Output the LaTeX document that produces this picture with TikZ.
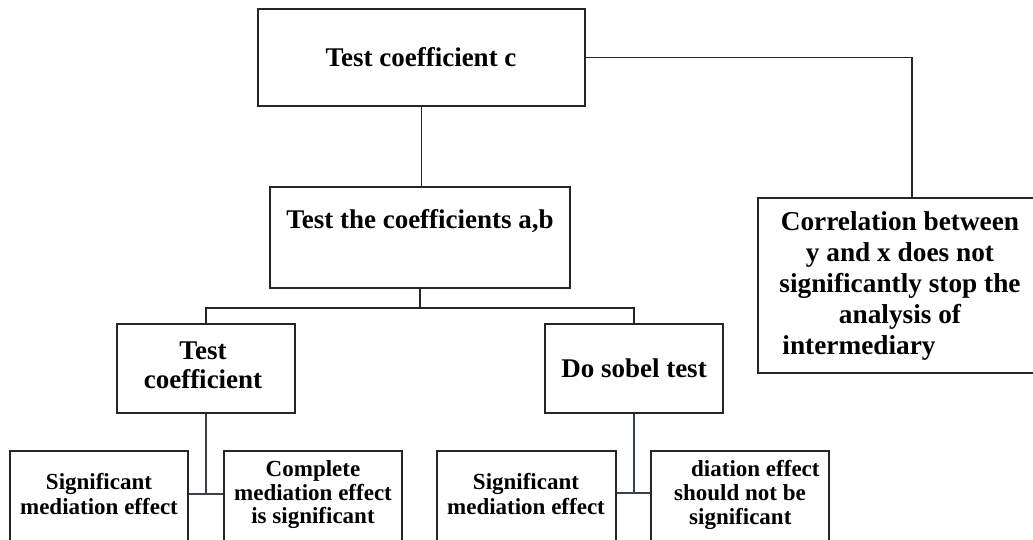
\documentclass[tikz,border=0pt]{standalone}
\usepackage{fontspec}
\setmainfont{Liberation Serif}
\usetikzlibrary{fit}
\begin{document}
\begin{tikzpicture}[x=1pt,y=-1pt,
  box/.style={draw=black!85, line width=1.6pt, inner sep=0pt, fill=white},
  conn/.style={draw=black!85, line width=1.5pt},
  conn2/.style={draw={rgb,255:red,55;green,65;blue,80}, line width=1.6pt},
  bigtxt/.style={font=\fontsize{27}{30}\selectfont\bfseries, align=center, inner sep=0pt},
  smalltxt/.style={font=\fontsize{23}{24.5}\selectfont\bfseries, align=center, inner sep=0pt},
  corrtxt/.style={font=\fontsize{27.3}{31.2}\selectfont\bfseries, align=center, inner sep=0pt}]
\useasboundingbox (0,0) rectangle (1033,539);
\begin{scope}
\clip (0,0) rectangle (1033,539);
\fill[white] (0,0) rectangle (1033,539);
% boxes
\node[box, fit={(258,9) (585,106)}] (top) {};
\node[box, fit={(270,187) (570,288)}] (mid) {};
\node[box, fit={(758,198) (1066,373)}] (corr) {};
\node[box, fit={(117,324) (295,413)}] (tc) {};
\node[box, fit={(545,324) (723,413)}] (sob) {};
\node[box, fit={(10,451) (188,548)}] (b1) {};
\node[box, fit={(224,451) (402,548)}] (b2) {};
\node[box, fit={(437,451) (616,548)}] (b3) {};
\node[box, fit={(651,451) (829,548)}] (b4) {};
% texts
\node[bigtxt] (ttop) at (421,57) {Test coefficient c};
\node[bigtxt] (tmid) at (420,221) {Test the coefficients a,b};
\node[bigtxt, font=\fontsize{27}{29}\selectfont\bfseries] (ttc) at (203,365) {Test\\coefficient};
\node[bigtxt] (tsob) at (634,368) {Do sobel test};
\node[corrtxt] (tcorr) at (900,286) {Correlation between\\y and x does not\\significantly stop the\\analysis of\\intermediary\hspace*{82pt}};
\node[smalltxt] (tb1) at (99,494) {Significant\\mediation effect};
\node[smalltxt, font=\fontsize{23}{23.5}\selectfont\bfseries] (tb2) at (313,495) {Complete\\mediation effect\\is significant};
\node[smalltxt] (tb3) at (526,494) {Significant\\mediation effect};
\node[smalltxt, font=\fontsize{23}{24}\selectfont\bfseries, align=left, anchor=west] (tb4) at (674,495) {\hspace*{17pt}diation effect\\should not be\\\hspace*{15pt}significant};
% connectors
\draw[conn] (top.east) -| (corr.north);
\draw[conn] (top.south) -- (top.south |- mid.north);
\draw[conn] (mid.south) -- ++(0,19) coordinate (split);
\draw[conn] (tc.north) |- (split) -| (sob.north);
\coordinate (j1) at (206,494);
\coordinate (j2) at (634,493);
\draw[conn2] (tc.south) -- (j1);
\draw[conn2] (b1.east |- j1) -- (b2.west |- j1);
\draw[conn2] (sob.south) -- (j2);
\draw[conn2] (b3.east |- j2) -- (b4.west |- j2);
\end{scope}
\end{tikzpicture}
\end{document}
